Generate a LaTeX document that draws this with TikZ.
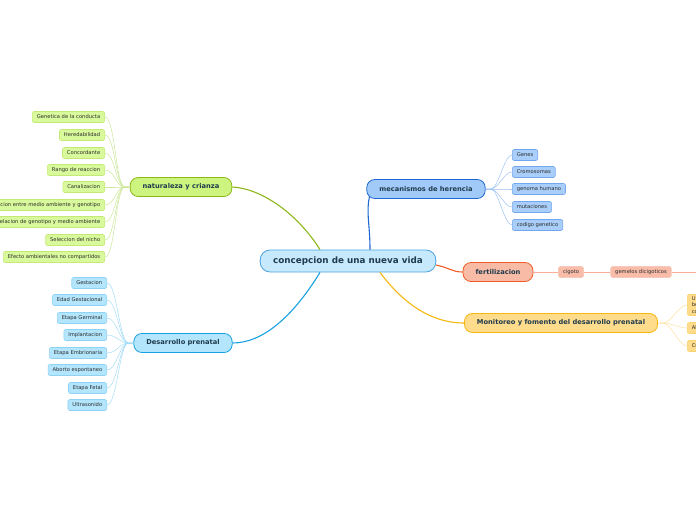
\documentclass[tikz,border=0pt]{standalone}
\usepackage{fontspec}
\setmainfont{DejaVu Sans}
\usetikzlibrary{positioning}

\definecolor{ink}{HTML}{1F3B4D}
\definecolor{leafink}{HTML}{2B2B2B}
\definecolor{vidafill}{HTML}{C6E9FB}
\definecolor{vidaline}{HTML}{4AA3DF}
\definecolor{natfill}{HTML}{CCF47E}
\definecolor{natline}{HTML}{8DB719}
\definecolor{natleaffill}{HTML}{D9FA9C}
\definecolor{natleafline}{HTML}{C5EA73}
\definecolor{natlink}{HTML}{CBE79A}
\definecolor{herfill}{HTML}{A2CAF9}
\definecolor{herline}{HTML}{1F67D2}
\definecolor{herleaffill}{HTML}{A9CEF9}
\definecolor{herleafline}{HTML}{74A8EE}
\definecolor{herlink}{HTML}{9EC2F2}
\definecolor{ferfill}{HTML}{F8BBA6}
\definecolor{ferline}{HTML}{F15A24}
\definecolor{ferleaffill}{HTML}{F9BCA8}
\definecolor{ferleafline}{HTML}{F6C9BA}
\definecolor{ferlink}{HTML}{F9AE96}
\definecolor{monfill}{HTML}{FEDC8C}
\definecolor{monline}{HTML}{F6B70F}
\definecolor{monleaffill}{HTML}{FEDC8C}
\definecolor{monleafline}{HTML}{FBD36C}
\definecolor{monlink}{HTML}{FDE0A0}
\definecolor{prefill}{HTML}{B3E5FC}
\definecolor{preline}{HTML}{17A1E2}
\definecolor{preleaffill}{HTML}{B3E5FC}
\definecolor{preleafline}{HTML}{8ED2F4}
\definecolor{prelink}{HTML}{A3DBF6}

\tikzset{
  central/.style={draw=vidaline, fill=vidafill, rounded corners=10pt, line width=0.8pt,
    font=\bfseries\fontsize{8.8}{10}\selectfont, text=ink, minimum height=22pt, inner xsep=13pt},
  topic/.style={draw, rounded corners=8pt, line width=0.8pt,
    font=\bfseries\fontsize{6.7}{8}\selectfont, text=ink, minimum height=19pt, inner xsep=12.5pt},
  leaf/.style={draw, rounded corners=2pt, line width=0.6pt,
    font=\fontsize{5.2}{6.5}\selectfont, text=leafink, minimum height=11pt, inner xsep=4.5pt, inner ysep=2pt},
  branch/.style={line width=1.1pt},
  twig/.style={line width=0.5pt}
}

\begin{document}
\begin{tikzpicture}[x=1pt,y=-1pt]
  \useasboundingbox (0,0) rectangle (696,520);
  \clip (0,0) rectangle (696,520);
  % Main node and topics
  \node[central] (vida) at (348,261) {concepcion de una nueva vida};
  \node[topic, draw=natline, fill=natfill] (nat) at (181,187) {naturaleza y crianza};
  \node[topic, draw=herline, fill=herfill] (her) at (426,189) {mecanismos de herencia};
  \node[topic, draw=ferline, fill=ferfill] (fer) at (498,272) {fertilizacion};
  \node[topic, draw=monline, fill=monfill] (mon) at (561,323) {Monitoreo y fomento del desarrollo prenatal};
  \node[topic, draw=preline, fill=prefill] (pre) at (183,343) {Desarrollo prenatal};
  % Branches from the main node
  \draw[branch, natline] ([xshift=-28pt]vida.north) .. controls (295,210) and (258,188) .. (nat.east);
  \draw[branch, herline] ([xshift=22pt]vida.north) .. controls (370,225) and (366,212) .. ([xshift=3pt,yshift=2pt]her.south west);
  \draw[branch, ferline] ([yshift=-4pt]vida.east) .. controls (450,268) and (452,272) .. (fer.west);
  \draw[branch, monline] ([xshift=32pt]vida.south) .. controls (402,302) and (430,323) .. (mon.west);
  \draw[branch, preline] ([xshift=-28pt]vida.south) .. controls (292,318) and (262,343) .. (pre.east);
  % naturaleza y crianza
  \foreach \y/\t [count=\i] in {117/Genetica de la conducta, 135/Heredabilidad, 153/Concordante,
      170/Rango de reaccion, 187/Canalizacion, 205/Interaccion entre medio ambiente y genotipo,
      222/Correlacion de genotipo y medio ambiente, 240/Seleccion del nicho,
      257/Efecto ambientales no compartidos} {
    \node[leaf, draw=natleafline, fill=natleaffill, anchor=east] (nat\i) at (105,\y) {\t};
    \draw[twig, natlink] (nat.west) -- ++(-5,0) .. controls +(-9,0) and +(10,0) .. (nat\i.east);
  }
  % Desarrollo prenatal
  \foreach \y/\t [count=\i] in {283/Gestacion, 300/Edad Gestacional, 318/Etapa Germinal,
      335/Implantacion, 353/Etapa Embrionaria, 370/Aborto espontaneo, 388/Etapa Fetal,
      405/Ultrasonido} {
    \node[leaf, draw=preleafline, fill=preleaffill, anchor=east] (pre\i) at (107,\y) {\t};
    \draw[twig, prelink] (pre.west) -- ++(-5,0) .. controls +(-9,0) and +(10,0) .. (pre\i.east);
  }
  % mecanismos de herencia
  \foreach \y/\t [count=\i] in {155/Genes, 172/Cromosomas, 189/genoma humano,
      207/mutaciones, 225/codigo genetico} {
    \node[leaf, draw=herleafline, fill=herleaffill, anchor=west] (her\i) at (512,\y) {\t};
    \draw[twig, herlink] (her.east) -- ++(5,0) .. controls +(8,0) and +(-8,0) .. (her\i.west);
  }
  % fertilizacion
  \node[leaf, draw=ferleafline, fill=ferleaffill] (cig) at (571,272) {cigoto};
  \node[leaf, draw=ferleafline, fill=ferleaffill] (gem) at (641,272) {gemelos dicigoticos};
  \coordinate (ferend) at (705,272);
  \draw[twig, ferlink] (fer.east) -- (cig.west);
  \draw[twig, ferlink] (cig.east) -- (gem.west);
  \draw[twig, ferlink] (gem.east) -- (ferend);
  % Monitoreo
  \node[leaf, draw=monleafline, fill=monleaffill, anchor=west, align=left] (mon1) at (687,305) {Ultrasonido\\ bebe\\ control};
  \node[leaf, draw=monleafline, fill=monleaffill, anchor=west] (mon2) at (687,328) {Alimentacion};
  \node[leaf, draw=monleafline, fill=monleaffill, anchor=west] (mon3) at (687,346) {Cuidados};
  \foreach \i in {1,2,3}
    \draw[twig, monlink] (mon.east) -- ++(5,0) .. controls +(8,0) and +(-8,0) .. (mon\i.west);
\end{tikzpicture}
\end{document}
